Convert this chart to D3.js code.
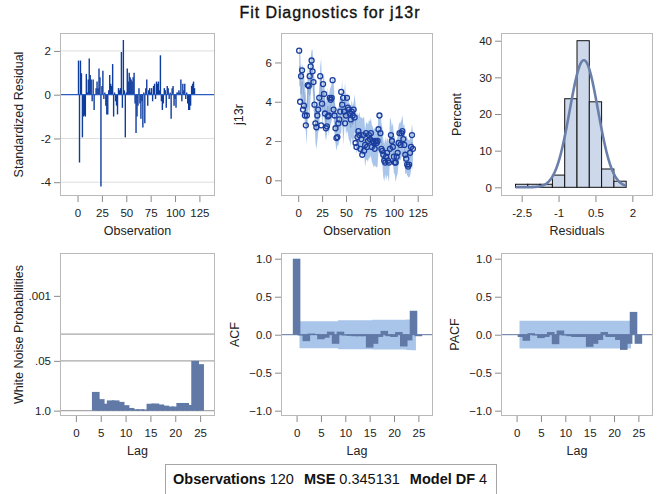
<!DOCTYPE html>
<html><head><meta charset="utf-8">
<script src="https://cdn.jsdelivr.net/npm/d3@7"></script>
<style>
body{margin:0;background:#fff}
svg{display:block;font-family:"Liberation Sans",Arial,sans-serif}
</style>
</head><body>
<svg id="c" width="662" height="494"></svg>
<script>
// ---------------- data ----------------
const titleText = "Fit Diagnostics for j13r";
const obsTicks = [0, 25, 50, 75, 100, 125];
const lagTicks = [0, 5, 10, 15, 20, 25];

const stdResidual = [
 1.56,-3.1,1.56,0.98,-1.95,-1.0,-0.95,-1.0,0.95,0.1,
 0.7,1.65,0.9,0.7,-0.3,0.7,-0.7,0.0,0.3,0.6,
 0.3,1.2,0.8,-4.2,0.4,1.1,-0.2,0.1,-0.5,-0.9,
 -0.9,0.2,0.9,0.5,0.4,1.4,-1.0,0.1,-0.3,-0.5,
 -0.9,0.3,0.2,0.3,1.95,-0.6,2.5,0.2,-1.95,0.1,
 1.2,0.6,1.0,0.8,0.7,0.6,0.8,1.0,-0.4,-1.75,
 -1.0,-0.5,0.3,-0.4,-1.1,-0.3,-1.5,0.1,-1.3,0.3,
 0.7,-0.5,0.2,0.3,0.1,0.3,-0.3,0.4,0.5,-0.2,
 0.6,0.5,0.6,0.2,1.8,-0.3,-0.7,-0.4,0.3,0.2,
 -0.6,0.4,0.3,-0.2,0.1,-1.1,0.3,0.4,-0.5,-0.2,
 -0.6,0.1,0.1,0.2,0.1,0.7,-0.3,0.5,0.2,0.5,
 -0.2,0.1,-0.4,-0.7,-0.7,-0.5,0.4,0.5,0.6,0.3];
const residTicks = [2, 0, -2, -4];

const j13r = [
 6.6,4.0,5.3,5.6,3.6,3.8,3.3,2.8,3.3,4.85,
 4.8,5.3,5.8,6.1,5.55,5.0,3.85,2.9,2.7,3.3,
 3.6,4.2,5.3,2.8,3.9,4.9,4.4,3.4,2.65,2.75,
 3.25,3.3,4.2,4.1,4.2,5.1,3.6,3.3,2.65,2.15,
 2.2,2.9,3.1,3.5,4.5,3.85,4.2,3.5,2.9,3.3,
 4.2,3.7,3.6,3.4,3.1,3.5,3.3,3.6,3.2,1.9,
 1.7,2.2,2.5,2.3,1.6,2.1,1.3,2.3,1.5,1.8,
 2.4,1.7,2.0,2.3,2.1,2.4,1.7,2.0,1.9,1.6,
 2.0,1.9,2.0,2.6,3.3,2.4,1.6,1.5,1.3,1.0,
 0.9,1.2,1.4,1.0,0.9,1.6,2.3,2.0,1.7,1.2,
 0.9,0.9,1.2,1.4,1.9,2.4,1.8,2.4,2.5,2.1,
 1.8,1.3,1.1,0.8,0.7,0.8,1.4,1.7,2.3,1.6];
const j13rTicks = [0, 2, 4, 6];
const mse = 0.345131;
const bandHalfWidth = 0.95;

const histMid = [-2.5,-2,-1.5,-1,-0.5,0,0.5,1,1.5];
const histPercent = [0.833,0.833,0.833,3.333,24.167,40,23.333,5,1.667];
const histBinWidth = 0.5;
const histTicksX = [-2.5, -1, 0.5, 2];
const histTicksY = [0, 10, 20, 30, 40];
const normalMean = 0.03, normalSd = 0.575;

const wnLags = [4,5,6,7,8,9,10,11,12,13,14,15,16,17,18,19,20,21,22,23,24,25];
const wnProb = [0.324,0.50,0.66,0.54,0.54,0.59,0.72,0.85,0.92,0.92,0.93,0.66,0.65,0.69,0.74,0.78,0.78,0.63,0.63,0.71,0.050,0.061];
const wnTicks = [1.0, 0.05, 0.001];
const wnTickLabels = ["1.0", ".05", ".001"];
const wnRefLines = [0.01, 0.05, 1.0];

const acfLags = [0,1,2,3,4,5,6,7,8,9,10,11,12,13,14,15,16,17,18,19,20,21,22,23,24,25];
const acfValues = [1.0,-0.01,-0.085,0.015,0.01,-0.06,-0.04,0.04,-0.12,0.04,-0.01,-0.015,-0.02,-0.02,-0.02,-0.17,-0.12,-0.03,0.05,-0.02,-0.03,0.035,-0.155,-0.075,0.315,-0.02];
const acfBandLags = [1,2,3,4,5,6,7,8,9,10,11,12,13,14,15,16,17,18,19,20,21,22,23,24];
const acfBand = [0.178,0.178,0.178,0.178,0.178,0.178,0.178,0.178,0.19,0.19,0.19,0.19,0.19,0.19,0.19,0.195,0.195,0.195,0.195,0.195,0.195,0.195,0.2,0.205];

const pacfLags = [1,2,3,4,5,6,7,8,9,10,11,12,13,14,15,16,17,18,19,20,21,22,23,24,25];
const pacfValues = [-0.03,-0.08,0.02,-0.01,-0.045,-0.03,0.035,-0.125,0.055,-0.01,-0.02,-0.03,-0.03,-0.03,-0.16,-0.12,-0.07,0.035,-0.03,-0.03,-0.07,-0.2,-0.12,0.30,-0.12];
const pacfBandLags = [1,2,3,4,5,6,7,8,9,10,11,12,13,14,15,16,17,18,19,20,21,22,23];
const pacfBand = [0.183,0.183,0.183,0.183,0.183,0.183,0.183,0.183,0.183,0.183,0.183,0.183,0.183,0.183,0.183,0.183,0.183,0.183,0.183,0.183,0.183,0.183,0.183];
const corrTicks = [1.0, 0.5, 0.0, -0.5, -1.0];
const corrTickLabels = ["1.0","0.5","0.0","\u22120.5","\u22121.0"];

const footerItems = [["Observations","120"],["MSE","0.345131"],["Model DF","4"]];

// ---------------- layout ----------------
const svg = d3.select("#c");
const colX = [[60,215],[281,433],[501,653]];
const rowY = [[33,196],[253,416]];
const txt = "#222", tickCol = "#8a8a8a", frameCol = "#b9b9b9";
const barCol = "#6079a6", bandCol = "#aac5ea";

svg.append("text").attr("x",330).attr("y",18).attr("text-anchor","middle")
  .attr("font-size",16).attr("fill","#111").attr("letter-spacing",0.9)
  .attr("stroke","#111").attr("stroke-width",0.35).text(titleText);

let clipId = 0;
function makePanel(ci, ri, x, y, opt){
  const [l,r] = colX[ci], [t,b] = rowY[ri];
  const g = svg.append("g");
  const id = "clip"+(clipId++);
  g.append("clipPath").attr("id",id).append("rect").attr("x",l).attr("y",t).attr("width",r-l).attr("height",b-t);
  const plot = g.append("g").attr("clip-path",`url(#${id})`);
  const ax = d3.axisBottom(x).tickValues(opt.xTicks).tickSize(6).tickPadding(7)
     .tickFormat(opt.xFmt || (d=>d));
  const gx = g.append("g").attr("transform",`translate(0,${b})`).call(ax);
  const ay = d3.axisLeft(y).tickValues(opt.yTicks).tickSize(6).tickPadding(3)
     .tickFormat(opt.yFmt || (d=>d));
  const gy = g.append("g").attr("transform",`translate(${l},0)`).call(ay);
  [gx,gy].forEach(a=>{
    a.select(".domain").remove();
    a.selectAll("line").attr("stroke",tickCol);
    a.selectAll("text").attr("fill",txt).attr("font-size",11.5).attr("font-family",'"Liberation Sans",Arial,sans-serif');
  });
  g.append("text").attr("x",(l+r)/2).attr("y",b+39).attr("text-anchor","middle")
    .attr("font-size",12.5).attr("fill",txt).text(opt.xLabel);
  g.append("text").attr("transform",`translate(${l-opt.yLabelOff},${(t+b)/2}) rotate(-90)`)
    .attr("text-anchor","middle").attr("dy","0.35em")
    .attr("font-size",12.5).attr("fill",txt).text(opt.yLabel);
  const frame = ()=> g.append("rect").attr("x",l+0.5).attr("y",t+0.5).attr("width",r-l-1).attr("height",b-t-1)
    .attr("fill","none").attr("stroke",frameCol);
  return {g, plot, frame};
}

// ---- Panel 1: standardized residuals ----
{
  const x = d3.scaleLinear().domain([-18,141]).range([colX[0][0],colX[0][1]]);
  const y = d3.scaleLinear().domain([-4.63,2.82]).range([rowY[0][1],rowY[0][0]]);
  const p = makePanel(0,0,x,y,{xTicks:obsTicks,yTicks:residTicks,xLabel:"Observation",yLabel:"Standardized Residual",yLabelOff:41,
     yFmt:d=>d<0?"-"+Math.abs(d):d});
  p.plot.selectAll(".grid").data(residTicks.filter(d=>d!==0)).join("line")
    .attr("x1",colX[0][0]).attr("x2",colX[0][1]).attr("y1",d=>y(d)).attr("y2",d=>y(d))
    .attr("stroke","#dedede");
  p.plot.selectAll(".needle").data(stdResidual).join("line")
    .attr("x1",(d,i)=>x(i+1)).attr("x2",(d,i)=>x(i+1))
    .attr("y1",y(0)).attr("y2",d=>y(d))
    .attr("stroke","#0f3d9e").attr("stroke-width",1.4);
  p.plot.append("line").attr("x1",colX[0][0]).attr("x2",colX[0][1]).attr("y1",y(0)).attr("y2",y(0))
    .attr("stroke","#2a5cc0").attr("stroke-width",1.3);
  p.frame();
}

// ---- Panel 2: j13r with forecast band ----
{
  const x = d3.scaleLinear().domain([-18,141]).range([colX[1][0],colX[1][1]]);
  const y = d3.scaleLinear().domain([-0.8,7.5]).range([rowY[0][1],rowY[0][0]]);
  const p = makePanel(1,0,x,y,{xTicks:obsTicks,yTicks:j13rTicks,xLabel:"Observation",yLabel:"j13r",yLabelOff:42});
  const rmse = Math.sqrt(mse);
  const fc = j13r.map((v,i)=>({i:i+1, f: v - stdResidual[i]*rmse}));
  p.plot.append("path").datum(fc)
    .attr("d", d3.area().x(d=>x(d.i)).y0(d=>y(d.f-bandHalfWidth)).y1(d=>y(d.f+bandHalfWidth)))
    .attr("fill",bandCol);
  p.plot.append("path").datum(fc)
    .attr("d", d3.line().x(d=>x(d.i)).y(d=>y(d.f)))
    .attr("fill","none").attr("stroke","#7f97c2").attr("stroke-width",1).attr("stroke-opacity",0.6);
  p.plot.selectAll("circle").data(j13r).join("circle")
    .attr("cx",(d,i)=>x(i+1)).attr("cy",d=>y(d)).attr("r",2.5)
    .attr("fill","none").attr("stroke","#1a3d9e").attr("stroke-width",1.3);
  p.frame();
}

// ---- Panel 3: histogram of residuals ----
{
  const x = d3.scaleLinear().domain([-3.34,2.84]).range([colX[2][0],colX[2][1]]);
  const y = d3.scaleLinear().domain([-2.37,42.1]).range([rowY[0][1],rowY[0][0]]);
  const p = makePanel(2,0,x,y,{xTicks:histTicksX,yTicks:histTicksY,xLabel:"Residuals",yLabel:"Percent",yLabelOff:44,
     xFmt:d=>d<0?"-"+Math.abs(d):d});
  p.plot.selectAll(".bar").data(histMid).join("rect")
    .attr("x",d=>x(d-histBinWidth/2)).attr("width",d=>x(d+histBinWidth/2)-x(d-histBinWidth/2))
    .attr("y",(d,i)=>y(histPercent[i])).attr("height",(d,i)=>y(0)-y(histPercent[i]))
    .attr("fill","#cdd8eb").attr("stroke","#111").attr("stroke-width",1);
  const xs = d3.range(-2.75, 1.76, 0.02);
  const dens = xs.map(v=>({v, p: 100*histBinWidth*Math.exp(-0.5*((v-normalMean)/normalSd)**2)/(normalSd*Math.sqrt(2*Math.PI))}));
  p.plot.append("path").datum(dens)
    .attr("d", d3.line().x(d=>x(d.v)).y(d=>y(d.p)).curve(d3.curveBasis))
    .attr("fill","none").attr("stroke","#6a80aa").attr("stroke-width",2.6);
  p.frame();
}

// ---- Panel 4: white noise probabilities ----
const barWidthLags = 1.55;
{
  const x = d3.scaleLinear().domain([-3.2,28]).range([colX[0][0],colX[0][1]]);
  const y = d3.scaleLog().domain([1.38,7.59e-5]).range([rowY[1][1],rowY[1][0]]);
  const p = makePanel(0,1,x,y,{xTicks:lagTicks,yTicks:wnTicks,xLabel:"Lag",yLabel:"White Noise Probabilities",yLabelOff:41,
     yFmt:(d,i)=>wnTickLabels[i]});
  p.plot.selectAll(".ref").data(wnRefLines).join("line")
    .attr("x1",colX[0][0]).attr("x2",colX[0][1]).attr("y1",d=>y(d)).attr("y2",d=>y(d))
    .attr("stroke","#a8a8a8").attr("stroke-width",1.2);
  p.plot.selectAll(".bar").data(wnLags).join("rect")
    .attr("x",d=>x(d-barWidthLags/2)).attr("width",x(barWidthLags)-x(0))
    .attr("y",(d,i)=>y(wnProb[i])).attr("height",(d,i)=>y(1)-y(wnProb[i]))
    .attr("fill",barCol);
  p.frame();
}

// ---- Panels 5 & 6: ACF / PACF ----
function corrPanel(ci, lags, vals, bandLags, band, label, off){
  const x = d3.scaleLinear().domain([-3.2,28]).range([colX[ci][0],colX[ci][1]]);
  const y = d3.scaleLinear().domain([-1.07,1.075]).range([rowY[1][1],rowY[1][0]]);
  const p = makePanel(ci,1,x,y,{xTicks:lagTicks,yTicks:corrTicks,xLabel:"Lag",yLabel:label,yLabelOff:off,
     yFmt:(d,i)=>corrTickLabels[i]});
  const pts = bandLags.map((k,i)=>({k:Math.max(k-0.5,0.6), v:band[i]}));
  pts.push({k:bandLags[bandLags.length-1]+0.5, v:band[band.length-1]});
  p.plot.append("path").datum(pts)
    .attr("d", d3.area().x(d=>x(d.k)).y0(d=>y(-d.v)).y1(d=>y(d.v)).curve(d3.curveStepAfter))
    .attr("fill",bandCol);
  p.plot.selectAll(".bar").data(lags).join("rect")
    .attr("x",d=>x(d-barWidthLags/2)).attr("width",x(barWidthLags)-x(0))
    .attr("y",(d,i)=>y(Math.max(0,vals[i]))).attr("height",(d,i)=>Math.abs(y(vals[i])-y(0)))
    .attr("fill",barCol);
  p.plot.append("line").attr("x1",colX[ci][0]).attr("x2",colX[ci][1]).attr("y1",y(0)).attr("y2",y(0))
    .attr("stroke","#5d76a3").attr("stroke-width",1);
  p.frame();
}
corrPanel(1, acfLags, acfValues, acfBandLags, acfBand, "ACF", 46);
corrPanel(2, pacfLags, pacfValues, pacfBandLags, pacfBand, "PACF", 46);

// ---- footer inset ----
{
  const g = svg.append("g");
  g.append("rect").attr("x",165.5).attr("y",464.5).attr("width",331).attr("height",40)
    .attr("fill","#fff").attr("stroke","#a5a5a5");
  const t = g.append("text").attr("x",173).attr("y",484).attr("font-size",14.5).attr("fill","#111")
    .style("white-space","pre");
  footerItems.forEach((it,i)=>{
    t.append("tspan").attr("font-weight","bold").attr("dx", i===0?0:10).text(it[0]);
    t.append("tspan").text(" "+it[1]);
  });
}
</script>
</body></html>
